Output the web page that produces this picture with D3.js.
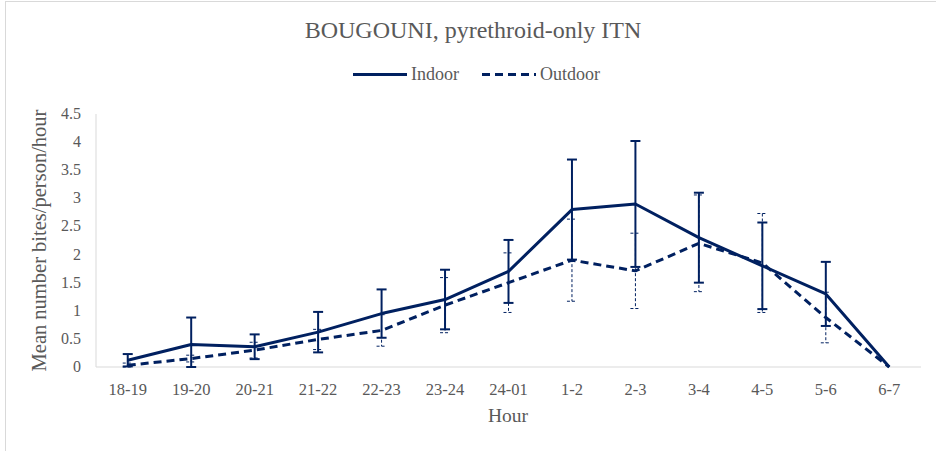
<!DOCTYPE html>
<html>
<head>
<meta charset="utf-8">
<script src="https://cdn.jsdelivr.net/npm/d3@7"></script>
<style>
  body { margin: 0; background: #fff; }
  text { font-family: "Liberation Serif", "DejaVu Serif", serif; fill: #595959; }
</style>
</head>
<body>
<script>
const hours = ["18-19", "19-20", "20-21", "21-22", "22-23", "23-24", "24-01", "1-2", "2-3", "3-4", "4-5", "5-6", "6-7"];
const indoor = [0.12, 0.4, 0.36, 0.62, 0.95, 1.2, 1.7, 2.8, 2.9, 2.3, 1.8, 1.3, 0];
const indoorErr = [0.11, 0.48, 0.22, 0.36, 0.43, 0.53, 0.56, 0.89, 1.12, 0.8, 0.77, 0.57, 0];
const outdoor = [0.03, 0.15, 0.3, 0.49, 0.65, 1.1, 1.5, 1.9, 1.71, 2.2, 1.85, 0.88, 0];
const outdoorErr = [0.04, 0.06, 0.14, 0.18, 0.28, 0.49, 0.53, 0.73, 0.67, 0.86, 0.88, 0.45, 0];
const yTicks = [0, 0.5, 1, 1.5, 2, 2.5, 3, 3.5, 4, 4.5];

const w = 936, h = 451;
const navy = "#002060";

const svg = d3.select("body").append("svg")
  .attr("width", w)
  .attr("height", h);

// chart border
svg.append("rect")
  .attr("x", 5.5).attr("y", 1.5)
  .attr("width", w + 10).attr("height", h + 10)
  .attr("fill", "none").attr("stroke", "#d9d9d9");

const x = d3.scaleBand().domain(hours).range([96, 921]);
const y = d3.scaleLinear().domain([0, 4.5]).range([367, 114]);
const cx = (d) => x(d) + x.bandwidth() / 2;

// axes
svg.append("line")
  .attr("x1", 96).attr("x2", 921)
  .attr("y1", y(0)).attr("y2", y(0))
  .attr("stroke", "#d9d9d9");
svg.append("line")
  .attr("x1", 96).attr("x2", 96)
  .attr("y1", y(0)).attr("y2", y(4.5))
  .attr("stroke", "#d9d9d9");

svg.selectAll(".ytick")
  .data(yTicks)
  .enter()
  .append("text")
  .attr("x", 81)
  .attr("y", (d) => y(d) + 5)
  .attr("text-anchor", "end")
  .attr("font-size", 16)
  .text((d) => d);

svg.selectAll(".xtick")
  .data(hours)
  .enter()
  .append("text")
  .attr("x", (d) => cx(d))
  .attr("y", 395)
  .attr("text-anchor", "middle")
  .attr("font-size", 16.5)
  .text((d) => d);

svg.append("text")
  .attr("x", 508).attr("y", 422)
  .attr("text-anchor", "middle")
  .attr("font-size", 19.5)
  .text("Hour");

svg.append("text")
  .attr("transform", "translate(46," + y(2.25) + ") rotate(-90)")
  .attr("text-anchor", "middle")
  .attr("font-size", 20.5)
  .text("Mean number bites/person/hour");

svg.append("text")
  .attr("x", 473).attr("y", 38)
  .attr("text-anchor", "middle")
  .attr("font-size", 24)
  .text("BOUGOUNI, pyrethroid-only ITN");

// error bars
function errorBars(vals, errs, width, dash) {
  const g = svg.append("g")
    .attr("stroke", navy)
    .attr("stroke-width", width)
    .attr("stroke-dasharray", dash);
  const d = hours.map((k, i) => ({ k, v: vals[i], e: errs[i] })).filter((p) => p.e > 0);
  g.selectAll(".bar").data(d).enter().append("line")
    .attr("x1", (p) => cx(p.k)).attr("x2", (p) => cx(p.k))
    .attr("y1", (p) => y(p.v + p.e)).attr("y2", (p) => y(Math.max(0, p.v - p.e)));
  g.selectAll(".capt").data(d).enter().append("line")
    .attr("x1", (p) => cx(p.k) - 5).attr("x2", (p) => cx(p.k) + 5)
    .attr("y1", (p) => y(p.v + p.e)).attr("y2", (p) => y(p.v + p.e));
  g.selectAll(".capb").data(d).enter().append("line")
    .attr("x1", (p) => cx(p.k) - 5).attr("x2", (p) => cx(p.k) + 5)
    .attr("y1", (p) => y(Math.max(0, p.v - p.e))).attr("y2", (p) => y(Math.max(0, p.v - p.e)));
}
errorBars(outdoor, outdoorErr, 1, "3,2");
errorBars(indoor, indoorErr, 2, null);

const line = d3.line().x((d, i) => cx(hours[i])).y((d) => y(d));

svg.append("path")
  .datum(outdoor)
  .attr("d", line)
  .attr("fill", "none")
  .attr("stroke", navy)
  .attr("stroke-width", 3)
  .attr("stroke-dasharray", "8,5")
  .attr("stroke-linejoin", "round");

svg.append("path")
  .datum(indoor)
  .attr("d", line)
  .attr("fill", "none")
  .attr("stroke", navy)
  .attr("stroke-width", 3)
  .attr("stroke-linejoin", "round");

// legend
const legend = [
  { name: "Indoor", x: 353, dash: null },
  { name: "Outdoor", x: 482, dash: "8,5" },
];
const lg = svg.selectAll(".legend").data(legend).enter().append("g");
lg.append("line")
  .attr("x1", (d) => d.x).attr("x2", (d) => d.x + 54)
  .attr("y1", 74.5).attr("y2", 74.5)
  .attr("stroke", navy).attr("stroke-width", 3)
  .attr("stroke-dasharray", (d) => d.dash);
lg.append("text")
  .attr("x", (d) => d.x + 58).attr("y", 80)
  .attr("font-size", 18)
  .text((d) => d.name);
</script>
</body>
</html>
